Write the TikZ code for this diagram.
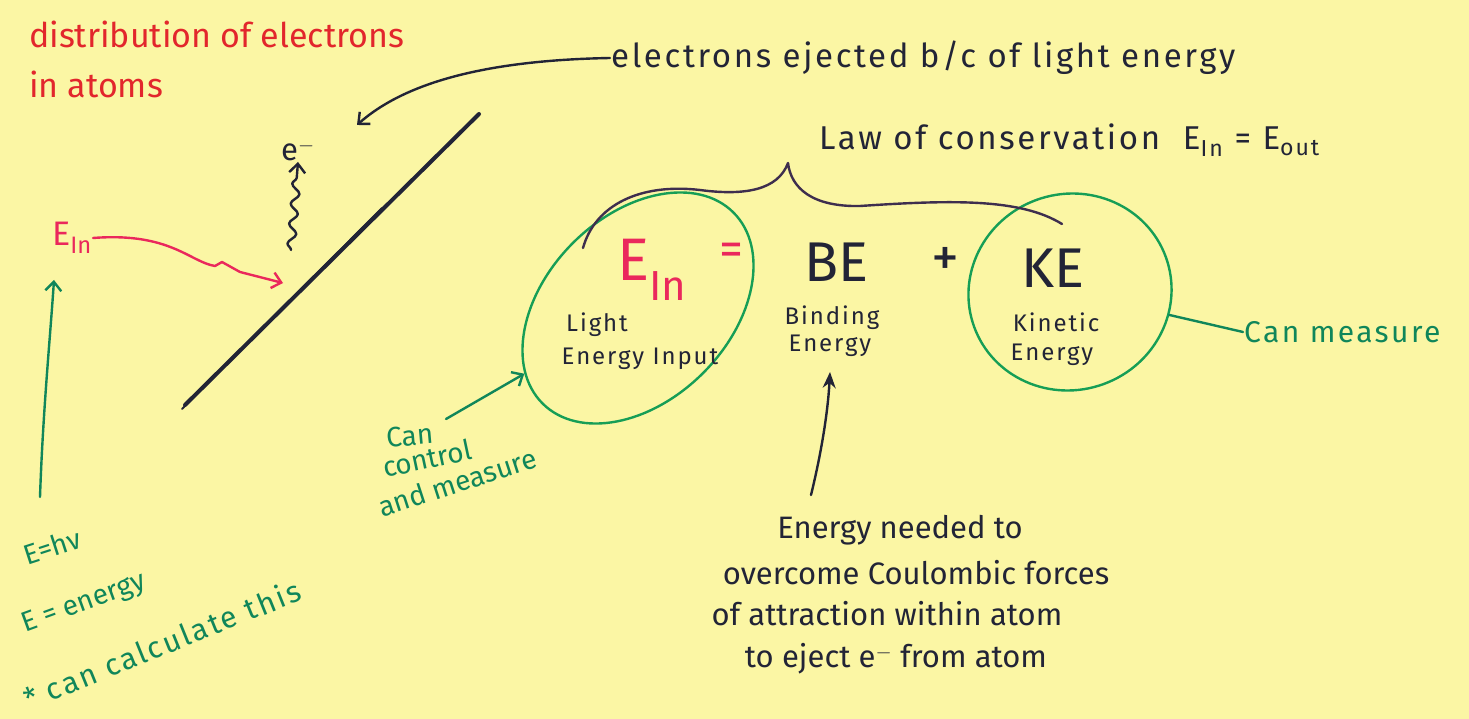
\documentclass[tikz,border=0pt]{standalone}
\usepackage{fontspec}
\setmainfont{Fira Sans}
\newfontfamily\widehand[LetterSpace=8]{Fira Sans}
\usetikzlibrary{arrows.meta,shapes.geometric,decorations.pathmorphing}
\definecolor{paper}{RGB}{251,246,164}
\definecolor{redpen}{RGB}{226,38,44}
\definecolor{pinkpen}{RGB}{234,40,92}
\definecolor{greenpen}{RGB}{16,134,90}
\definecolor{ringgreen}{RGB}{22,158,86}
\definecolor{inkpen}{RGB}{34,36,54}
\definecolor{bracepen}{RGB}{62,46,78}
\tikzset{
  every node/.style={inner sep=1pt},
  redtxt/.style={text=redpen,font=\fontsize{34}{38}\selectfont},
  inktxt/.style={text=inkpen,font=\fontsize{31}{34}\selectfont},
  widetxt/.style={text=inkpen,font=\widehand\fontsize{33}{36}\selectfont},
  smalltxt/.style={text=inkpen,font=\widehand\fontsize{24}{28}\selectfont},
  greentxt/.style={text=greenpen,font=\fontsize{28}{32}\selectfont},
  bigtxt/.style={text=inkpen,font=\fontsize{56}{60}\selectfont},
  inkline/.style={draw=inkpen,line width=2.4pt},
  greenline/.style={draw=greenpen,line width=2.4pt},
  ring/.style={ellipse,draw=ringgreen,line width=2.4pt,inner sep=0pt}
}
\begin{document}
\begin{tikzpicture}[x=1pt,y=-1pt,line join=round,line cap=round,>={Straight Barb[length=9pt,width=16pt]}]
	\fill[paper] (0,0) rectangle (1469,719);
	\useasboundingbox (0,0) rectangle (1469,719);
	% red heading
	\node[redtxt,anchor=west] (distrib) at (28,34) {distribution of electrons};
	\node[redtxt,anchor=west] (atoms) at (28,84) {in atoms};
	% plate and ejected electron
	\coordinate (plateA) at (185,405);
	\coordinate (plateB) at (479,114);
	\draw[inkpen,line width=4pt] (plateA)--(plateB);
	\draw[inkpen,line width=2pt] ([xshift=-3pt,yshift=-4pt]plateA)--(382,208);
	\node[inktxt] (elec) at (298,150) {e$^-$};
	\coordinate (wavetail) at (291,250);
	\draw[inkline,->,decorate,decoration={snake,amplitude=4pt,segment length=20pt,post length=10pt}] (wavetail)--(elec.south);
	\node[widetxt,anchor=west] (eject) at (610,58) {electrons ejected b/c of light energy};
	\coordinate (ejecttip) at (357,125);
	\draw[inkline,->] (eject.west) .. controls (500,60) and (410,78) .. (ejecttip);
	% incoming light
	\node[text=pinkpen,font=\fontsize{34}{38}\selectfont] (einleft) at (72,238) {E\textsubscript{In}};
	\coordinate (pinktip) at (283,283);
	\draw[draw=pinkpen,line width=2.4pt,->] (einleft.east) .. controls (170,232) and (190,262) .. (215,266)--(222,262)--(240,272)--(pinktip);
	\coordinate (hvtail) at (40,497);
	\coordinate (hvtip) at (54,280);
	\draw[greenline,->] (hvtail) .. controls (43,410) and (50,340) .. (hvtip);
	\node[greentxt,rotate=18] (ehv) at (52,546) {E=hν};
	\node[greentxt,rotate=20] (edef) at (84,604) {E = energy};
	\node[greentxt,rotate=22,font=\widehand\fontsize{30}{34}\selectfont] (calc) at (162,644) {* can calculate this};
	% energy balance
	\node[ring,minimum width=270pt,minimum height=184pt,rotate=45] (lightring) at (638,308) {};
	\node[ring,minimum width=204pt,minimum height=196pt,rotate=20] (kinring) at (1070,292) {};
	\node[text=pinkpen,font=\fontsize{60}{64}\selectfont] (einbig) at (652,270) {E\textsubscript{In}};
	\node[text=pinkpen,font=\fontsize{48}{52}\selectfont] (equal) at (731,254) {=};
	\node[bigtxt] (be) at (836,262) {BE};
	\node[bigtxt] (plus) at (945,262) {+};
	\node[bigtxt] (ke) at (1053,268) {KE};
	\node[smalltxt] (light) at (597,325) {Light};
	\node[smalltxt] (lightin) at (640,359) {Energy Input};
	\node[smalltxt] (bind) at (832,318) {Binding};
	\node[smalltxt] (bindE) at (830,346) {Energy};
	\node[smalltxt] (kin) at (1056,322) {Kinetic};
	\node[smalltxt] (kinE) at (1052,355) {Energy};
	% conservation brace
	\coordinate (braceL) at (583,248);
	\coordinate (braceTip) at (788,163);
	\coordinate (braceR) at (1062,224);
	\draw[draw=bracepen,line width=2.4pt] (braceL) .. controls (595,205) and (640,183) .. (700,190) .. controls (745,196) and (778,190) .. (braceTip) .. controls (791,188) and (812,207) .. (860,206) .. controls (950,200) and (1020,198) .. (braceR);
	\node[widetxt,anchor=west] (law) at (818,140) {Law of conservation \ E\textsubscript{In} = E\textsubscript{out}};
	% notes round the balance
	\node[greentxt,anchor=west,rotate=5] (can) at (385,438) {Can};
	\node[greentxt,anchor=west,rotate=12] (control) at (382,468) {control};
	\node[greentxt,anchor=west,rotate=18] (measure) at (378,508) {and measure};
	\coordinate (ctrltail) at (446,419);
	\draw[greenline,->] (ctrltail)--(lightring);
	\node[greentxt,anchor=west,font=\widehand\fontsize{30}{34}\selectfont] (canmeas) at (1243,332) {Can measure};
	\draw[greenline] (canmeas.west)--(kinring);
	\foreach \i/\x/\y/\t in {1/900/530/Energy needed to,2/916/573/overcome Coulombic forces,3/887/614/of attraction within atom,4/896/659/to eject e$^-$ from atom}
		\node[inktxt] (need\i) at (\x,\y) {\t};
	\coordinate (needtail) at (811,495);
	\draw[inkline,-{Stealth[length=16pt,width=13pt]}] (needtail) .. controls (822,450) and (828,410) .. ([yshift=-14pt]bindE.south);
\end{tikzpicture}
\end{document}
